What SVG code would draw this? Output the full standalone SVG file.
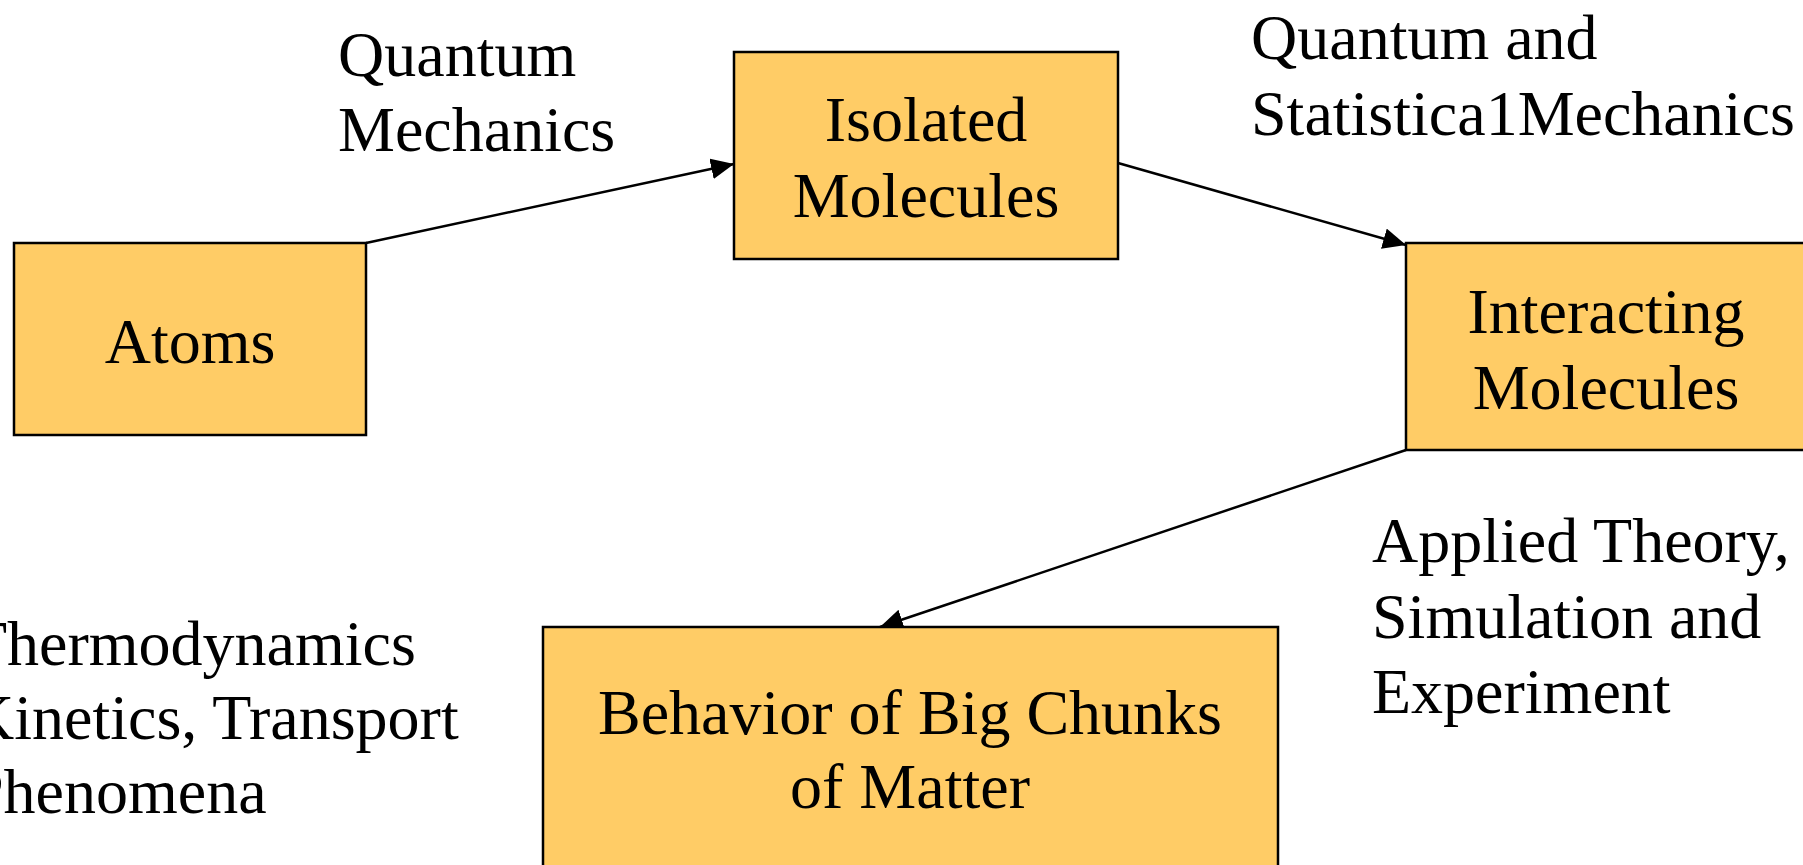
<svg xmlns="http://www.w3.org/2000/svg" width="1803" height="865" viewBox="0 0 1803 865">
  <defs>
    <style>
      .box { fill: #FFCC66; stroke: #000; stroke-width: 2.5; }
      .lbl { font-family: "Liberation Serif", "Times New Roman", serif; font-size: 64px; fill: #000; }
      .mid { text-anchor: middle; }
      .edge { fill: none; stroke: #000; stroke-width: 2.5; }
    </style>
    <marker id="arrow" markerUnits="userSpaceOnUse" markerWidth="26" markerHeight="24" refX="23" refY="10.5" orient="auto">
      <path d="M0,0 L23,10.5 L0,21 z" fill="#000"/>
    </marker>
  </defs>
  <rect width="1803" height="865" fill="#fff"/>

  <!-- connectors -->
  <g id="connectors">
    <line class="edge" x1="366" y1="243" x2="734" y2="164" marker-end="url(#arrow)"/>
    <line class="edge" x1="1118" y1="163" x2="1406" y2="245" marker-end="url(#arrow)"/>
    <line class="edge" x1="1406" y1="450" x2="880" y2="627" marker-end="url(#arrow)"/>
  </g>

  <!-- nodes -->
  <g id="atoms">
    <rect class="box" x="14" y="243" width="352" height="192"/>
    <text class="lbl mid" x="190" y="363">Atoms</text>
  </g>
  <g id="isolated-molecules">
    <rect class="box" x="734" y="52" width="384" height="207"/>
    <text class="lbl mid" x="926" y="141">Isolated</text>
    <text class="lbl mid" x="926" y="217">Molecules</text>
  </g>
  <g id="interacting-molecules">
    <rect class="box" x="1406" y="243" width="420" height="207"/>
    <text class="lbl mid" x="1606" y="333">Interacting</text>
    <text class="lbl mid" x="1606" y="409">Molecules</text>
  </g>
  <g id="big-chunks">
    <rect class="box" x="543" y="627" width="735" height="260"/>
    <text class="lbl mid" x="910" y="734">Behavior of Big Chunks</text>
    <text class="lbl mid" x="910" y="808">of Matter</text>
  </g>

  <!-- edge labels -->
  <g id="label-qm">
    <text class="lbl" x="338" y="76">Quantum</text>
    <text class="lbl" x="338" y="151">Mechanics</text>
  </g>
  <g id="label-qsm">
    <text class="lbl" x="1251" y="59">Quantum and</text>
    <text class="lbl" x="1251" y="135">Statistica1Mechanics</text>
  </g>
  <g id="label-applied">
    <text class="lbl" x="1372" y="562">Applied Theory,</text>
    <text class="lbl" x="1372" y="638">Simulation and</text>
    <text class="lbl" x="1372" y="713">Experiment</text>
  </g>
  <g id="label-thermo">
    <text class="lbl" x="-32" y="665">Thermodynamics</text>
    <text class="lbl" x="-32" y="739">Kinetics, Transport</text>
    <text class="lbl" x="-32" y="813">Phenomena</text>
  </g>
</svg>
